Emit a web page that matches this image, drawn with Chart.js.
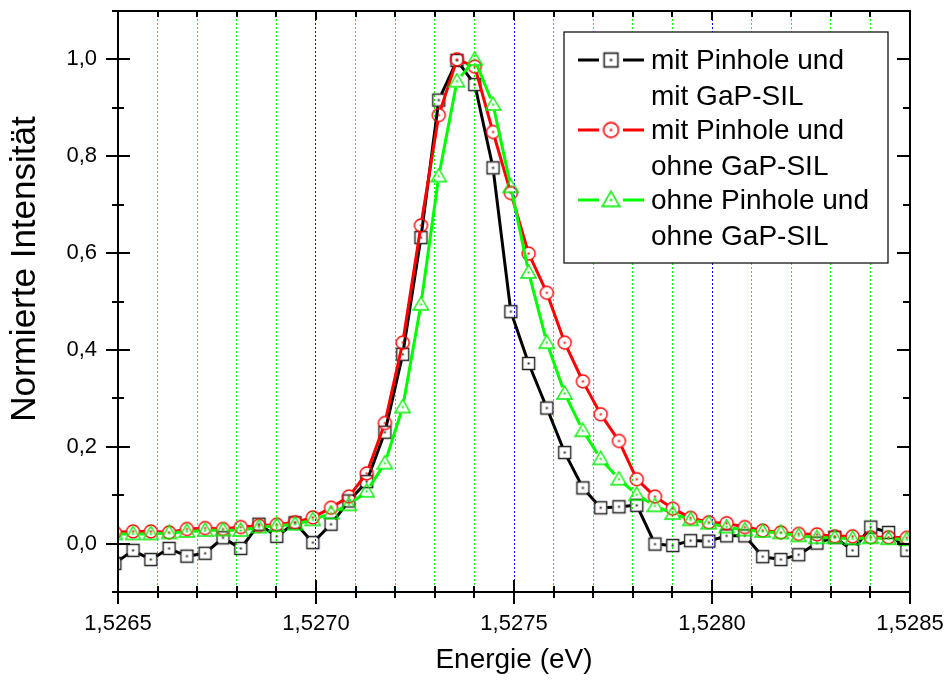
<!DOCTYPE html>
<html>
<head>
<meta charset="utf-8">
<script src="https://cdn.jsdelivr.net/npm/chart.js@4.4.0/dist/chart.umd.min.js"></script>
<style>
  html, body { margin: 0; padding: 0; background: #fff; }
  #wrap { width: 947px; height: 686px; position: relative; }
</style>
</head>
<body>
<div id="wrap"><canvas id="chart"></canvas></div>
<script>
// Energy axis (eV), one value per measured point
const energy = [
  1.526492, 1.526538, 1.526583, 1.526629, 1.526674, 1.526720, 1.526765, 1.526810,
  1.526856, 1.526901, 1.526947, 1.526992, 1.527038, 1.527083, 1.527128, 1.527174,
  1.527219, 1.527265, 1.527310, 1.527356, 1.527401, 1.527447, 1.527492, 1.527537,
  1.527583, 1.527628, 1.527674, 1.527719, 1.527765, 1.527810, 1.527856, 1.527901,
  1.527946, 1.527992, 1.528037, 1.528083, 1.528128, 1.528174, 1.528219, 1.528265,
  1.528310, 1.528355, 1.528401, 1.528446, 1.528492
];

// mit Pinhole und mit GaP-SIL (black squares)
const mitPinholeMitSil = [
  -0.041, -0.014, -0.033, -0.010, -0.026, -0.020, 0.012, -0.010,
  0.040, 0.015, 0.043, 0.002, 0.040, 0.088, 0.128, 0.230,
  0.391, 0.632, 0.916, 0.998, 0.948, 0.776, 0.479, 0.372,
  0.280, 0.188, 0.115, 0.074, 0.076, 0.079, -0.001, -0.004,
  0.006, 0.005, 0.016, 0.016, -0.027, -0.033, -0.023, 0.001,
  0.013, -0.014, 0.034, 0.023, -0.014
];

// mit Pinhole und ohne GaP-SIL (red circles)
const mitPinholeOhneSil = [
  0.023, 0.025, 0.025, 0.023, 0.030, 0.032, 0.030, 0.034,
  0.037, 0.039, 0.044, 0.054, 0.074, 0.097, 0.145, 0.249,
  0.415, 0.657, 0.885, 1.000, 0.985, 0.850, 0.724, 0.599,
  0.518, 0.415, 0.335, 0.267, 0.212, 0.133, 0.097, 0.072,
  0.053, 0.044, 0.042, 0.034, 0.027, 0.023, 0.020, 0.019,
  0.015, 0.015, 0.013, 0.013, 0.012
];

// ohne Pinhole und ohne GaP-SIL (green triangles)
const ohnePinholeOhneSil = [
  0.020, 0.020, 0.020, 0.022, 0.025, 0.027, 0.028, 0.027,
  0.034, 0.037, 0.040, 0.049, 0.063, 0.080, 0.108, 0.166,
  0.282, 0.494, 0.759, 0.955, 1.000, 0.907, 0.737, 0.560,
  0.415, 0.310, 0.233, 0.175, 0.133, 0.101, 0.078, 0.062,
  0.049, 0.042, 0.034, 0.028, 0.025, 0.022, 0.016, 0.012,
  0.012, 0.010, 0.012, 0.010, 0.008
];

const seriesLabels = [
  ['mit Pinhole und', 'mit GaP-SIL'],
  ['mit Pinhole und', 'ohne GaP-SIL'],
  ['ohne Pinhole und', 'ohne GaP-SIL']
];
const yTitle = 'Normierte Intensität';
const xTitle = 'Energie (eV)';

const FONT = "'Liberation Sans', Arial, sans-serif";
Chart.defaults.font.family = FONT;
Chart.defaults.color = '#000';

const GAP = 6.5;

// hollow marker with a small dot in the middle, like Origin draws them
function makeMarker(shape, color) {
  const c = document.createElement('canvas');
  c.width = 17; c.height = 17;
  const g = c.getContext('2d');
  const m = 8.5;
  g.strokeStyle = color;
  g.lineWidth = 1.4;
  g.beginPath();
  if (shape === 'square') {
    g.rect(m - 6, m - 6, 12, 12);
  } else if (shape === 'circle') {
    g.arc(m, m, 6.5, 0, Math.PI * 2);
  } else {
    g.moveTo(m, m - 7.5);
    g.lineTo(m + 7.5, m + 5.5);
    g.lineTo(m - 7.5, m + 5.5);
    g.closePath();
  }
  g.stroke();
  g.fillStyle = color;
  g.fillRect(m - 1, m - 1, 2, 2);
  return c;
}

const markers = [
  makeMarker('square', '#222'),
  makeMarker('circle', '#ff0000'),
  makeMarker('triangle', '#00ee00')
];
const lineColors = ['#000000', '#ff0000', '#00ff00'];

function toPoints(values) {
  return energy.map((e, i) => ({ x: e, y: values[i] }));
}

function isMajorX(v) {
  return Math.round(v * 10000) % 5 === 0;
}

// lines between markers, leaving a small gap round each marker
const gappedLines = {
  id: 'gappedLines',
  beforeDatasetDraw(chart, args) {
    const ctx = chart.ctx;
    const a = chart.chartArea;
    const pts = args.meta.data;
    ctx.save();
    ctx.beginPath();
    ctx.rect(a.left, a.top, a.right - a.left, a.bottom - a.top);
    ctx.clip();
    ctx.strokeStyle = lineColors[args.index];
    ctx.lineWidth = 3;
    ctx.beginPath();
    for (let i = 1; i < pts.length; i++) {
      const p0 = pts[i - 1], p1 = pts[i];
      const dx = p1.x - p0.x, dy = p1.y - p0.y;
      const len = Math.hypot(dx, dy);
      if (len <= 2 * GAP) continue;
      const ux = dx / len, uy = dy / len;
      ctx.moveTo(p0.x + ux * GAP, p0.y + uy * GAP);
      ctx.lineTo(p1.x - ux * GAP, p1.y - uy * GAP);
    }
    ctx.stroke();
    ctx.restore();
  }
};

// frame, tick marks on all four sides, y title and the legend box
const frameAndLegend = {
  id: 'frameAndLegend',
  afterDraw(chart) {
    const ctx = chart.ctx;
    const a = chart.chartArea;
    const xs = chart.scales.x, ys = chart.scales.y;
    ctx.save();
    ctx.strokeStyle = '#000';
    ctx.lineWidth = 2;
    ctx.strokeRect(a.left, a.top, a.right - a.left, a.bottom - a.top);

    ctx.beginPath();
    xs.ticks.forEach(t => {
      const px = Math.round(xs.getPixelForValue(t.value));
      const major = isMajorX(t.value);
      const l = major ? 12 : 6;
      ctx.moveTo(px, a.bottom - l);
      ctx.lineTo(px, a.bottom + l);
      ctx.moveTo(px, a.top);
      ctx.lineTo(px, a.top + (major ? 9 : 6));
    });
    ys.ticks.forEach(t => {
      const py = Math.round(ys.getPixelForValue(t.value));
      const major = Math.round(t.value * 10) % 2 === 0;
      const l = major ? 12 : 6;
      ctx.moveTo(a.left - l, py);
      ctx.lineTo(a.left + l, py);
      ctx.moveTo(a.right, py);
      ctx.lineTo(a.right - (major ? 13 : 7), py);
    });
    ctx.stroke();

    // y axis title
    ctx.save();
    ctx.translate(25, 269);
    ctx.rotate(-Math.PI / 2);
    ctx.font = '35px ' + FONT;
    ctx.fillStyle = '#000';
    ctx.textAlign = 'center';
    ctx.textBaseline = 'middle';
    ctx.fillText(yTitle, 0, 0);
    ctx.restore();

    // legend
    const bw = 324, bh = 231;
    const bx = a.right - 22 - bw, by = a.top + 21;
    ctx.fillStyle = '#fff';
    ctx.fillRect(bx, by, bw, bh);
    ctx.lineWidth = 1.2;
    ctx.strokeStyle = '#000';
    ctx.strokeRect(bx, by, bw, bh);

    ctx.font = '28px ' + FONT;
    ctx.textBaseline = 'middle';
    ctx.textAlign = 'left';
    seriesLabels.forEach((lines, i) => {
      const y = by + 28 + i * 70;
      const cx = bx + 47;
      ctx.strokeStyle = lineColors[i];
      ctx.lineWidth = 3;
      ctx.beginPath();
      ctx.moveTo(cx - 33, y); ctx.lineTo(cx - 12, y);
      ctx.moveTo(cx + 12, y); ctx.lineTo(cx + 33, y);
      ctx.stroke();
      const mk = markers[i];
      const w = mk.width * 1.15, h = mk.height * 1.15;
      ctx.drawImage(mk, cx - w / 2, y - h / 2, w, h);
      ctx.fillStyle = '#000';
      lines.forEach((txt, j) => ctx.fillText(txt, bx + 87, y + 1 + j * 36));
    });
    ctx.restore();
  }
};

new Chart(document.getElementById('chart'), {
  type: 'scatter',
  data: {
    datasets: [
      { label: seriesLabels[0].join(' '), data: toPoints(mitPinholeMitSil), pointStyle: markers[0], pointRadius: 7, order: 3 },
      { label: seriesLabels[1].join(' '), data: toPoints(mitPinholeOhneSil), pointStyle: markers[1], pointRadius: 7, order: 2 },
      { label: seriesLabels[2].join(' '), data: toPoints(ohnePinholeOhneSil), pointStyle: markers[2], pointRadius: 7, order: 1 }
    ]
  },
  options: {
    responsive: true,
    maintainAspectRatio: false,
    animation: false,
    layout: { padding: { top: 11, right: 37, left: 0, bottom: 0 } },
    plugins: {
      legend: { display: false },
      tooltip: { enabled: false }
    },
    scales: {
      x: {
        type: 'linear',
        min: 1.5265,
        max: 1.5285,
        afterFit: s => { s.height = 94; s.paddingLeft = 0; s.paddingRight = 0; },
        border: { display: false, dash: [2, 2] },
        grid: {
          drawTicks: false,
          lineWidth: 1,
          color: c => {
            const v = c.tick.value;
            if (v <= 1.52650001 || v >= 1.52849999) return 'rgba(0,0,0,0)';
            return isMajorX(v) ? '#0000ff' : '#00ff00';
          }
        },
        ticks: {
          stepSize: 0.0001,
          autoSkip: false,
          maxRotation: 0,
          padding: 19,
          font: { size: 22 },
          callback: v => isMajorX(v) ? v.toFixed(4).replace('.', ',') : ''
        },
        title: {
          display: true,
          text: xTitle,
          font: { size: 28 },
          padding: { top: 0, bottom: 9 }
        }
      },
      y: {
        min: -0.1,
        max: 1.1,
        afterFit: s => { s.width = 118; s.paddingTop = 0; s.paddingBottom = 0; },
        border: { display: false },
        grid: { display: false, drawTicks: false },
        ticks: {
          stepSize: 0.1,
          padding: 21,
          font: { size: 22 },
          callback: v => {
            const n = Math.round(v * 10);
            return (n % 2 === 0 && n >= 0) ? (n / 10).toFixed(1).replace('.', ',') : '';
          }
        }
      }
    }
  },
  plugins: [gappedLines, frameAndLegend]
});
</script>
</body>
</html>
